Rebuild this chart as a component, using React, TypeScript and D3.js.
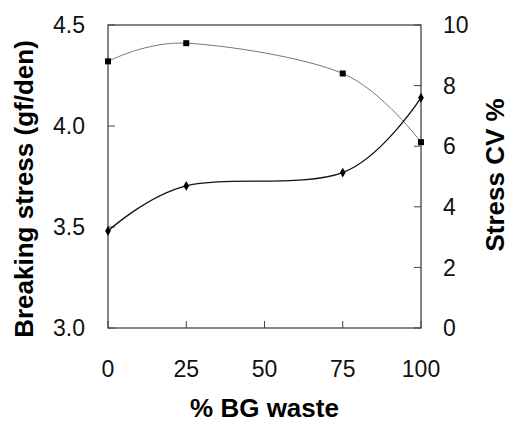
import React, { useEffect, useRef } from 'react';
import * as d3 from 'd3';

const bgWaste = [0, 25, 75, 100];
const breakingStress = [4.32, 4.41, 4.26, 3.92];
const stressCV = [3.2, 4.69, 5.13, 7.6];
const xTicks = [0, 25, 50, 75, 100];
const leftTicks = [3.0, 3.5, 4.0, 4.5];
const rightTicks = [0, 2, 4, 6, 8, 10];

export default function App() {
  const ref = useRef<SVGSVGElement | null>(null);

  useEffect(() => {
    const width = 511;
    const height = 424;
    const m = { left: 108, right: 421, top: 25, bottom: 328 };
    const font = '"Liberation Sans", Arial, sans-serif';

    const svg = d3.select(ref.current);
    svg.selectAll('*').remove();
    svg.attr('width', width).attr('height', height);

    const x = d3.scaleLinear().domain([0, 100]).range([m.left, m.right]);
    const yL = d3.scaleLinear().domain([3, 4.5]).range([m.bottom, m.top]);
    const yR = d3.scaleLinear().domain([0, 10]).range([m.bottom, m.top]);

    const axisColor = '#444';

    // frame
    svg.append('rect')
      .attr('x', m.left).attr('y', m.top)
      .attr('width', m.right - m.left).attr('height', m.bottom - m.top)
      .attr('fill', 'none').attr('stroke', axisColor).attr('stroke-width', 1.3);

    // inward ticks
    const tl = 7;
    svg.append('g').selectAll('line').data(leftTicks).enter().append('line')
      .attr('x1', m.left).attr('x2', m.left + tl)
      .attr('y1', d => yL(d)).attr('y2', d => yL(d))
      .attr('stroke', axisColor);
    svg.append('g').selectAll('line').data(rightTicks).enter().append('line')
      .attr('x1', m.right - tl).attr('x2', m.right)
      .attr('y1', d => yR(d)).attr('y2', d => yR(d))
      .attr('stroke', axisColor);
    svg.append('g').selectAll('line').data(xTicks).enter().append('line')
      .attr('x1', d => x(d)).attr('x2', d => x(d))
      .attr('y1', m.bottom - tl).attr('y2', m.bottom)
      .attr('stroke', axisColor);

    // tick labels
    svg.append('g').selectAll('text').data(leftTicks).enter().append('text')
      .attr('x', 85).attr('y', d => yL(d)).attr('dy', '0.36em')
      .attr('text-anchor', 'end')
      .style('font-family', font).style('font-size', '23px').attr('fill', '#111')
      .text(d => d.toFixed(1));
    svg.append('g').selectAll('text').data(rightTicks).enter().append('text')
      .attr('x', 443).attr('y', d => yR(d)).attr('dy', '0.36em')
      .attr('text-anchor', 'start')
      .style('font-family', font).style('font-size', '23px').attr('fill', '#111')
      .text(d => d);
    svg.append('g').selectAll('text').data(xTicks).enter().append('text')
      .attr('x', d => x(d)).attr('y', 377)
      .attr('text-anchor', 'middle')
      .style('font-family', font).style('font-size', '23px').attr('fill', '#111')
      .text(d => d);

    // axis titles
    svg.append('text')
      .attr('transform', `translate(33,189) rotate(-90)`)
      .attr('text-anchor', 'middle')
      .style('font-family', font).style('font-size', '26px').style('font-weight', 'bold')
      .text('Breaking stress (gf/den)');
    svg.append('text')
      .attr('transform', `translate(504,175) rotate(-90)`)
      .attr('text-anchor', 'middle')
      .style('font-family', font).style('font-size', '26px').style('font-weight', 'bold')
      .text('Stress CV %');
    svg.append('text')
      .attr('x', (m.left + m.right) / 2).attr('y', 417)
      .attr('text-anchor', 'middle')
      .style('font-family', font).style('font-size', '26px').style('font-weight', 'bold')
      .text('% BG waste');

    // series
    const s1 = bgWaste.map((v, i) => [v, breakingStress[i]] as [number, number]);
    const s2 = bgWaste.map((v, i) => [v, stressCV[i]] as [number, number]);

    const line1 = d3.line<[number, number]>().x(d => x(d[0])).y(d => yL(d[1])).curve(d3.curveCardinal.tension(0));
    const line2 = d3.line<[number, number]>().x(d => x(d[0])).y(d => yR(d[1])).curve(d3.curveCardinal.tension(0));

    svg.append('path').attr('d', line1(s1)).attr('fill', 'none')
      .attr('stroke', '#777').attr('stroke-width', 1);
    svg.append('path').attr('d', line2(s2)).attr('fill', 'none')
      .attr('stroke', '#111').attr('stroke-width', 1.3);

    svg.append('g').selectAll('rect').data(s1).enter().append('rect')
      .attr('x', d => x(d[0]) - 3).attr('y', d => yL(d[1]) - 3)
      .attr('width', 6).attr('height', 6).attr('fill', '#000');
    svg.append('g').selectAll('path').data(s2).enter().append('path')
      .attr('transform', d => `translate(${x(d[0])},${yR(d[1])})`)
      .attr('d', d3.symbol().type(d3.symbolDiamond).size(28)())
      .attr('fill', '#000');
  }, []);

  return (
    <svg ref={ref} style={{ position: 'fixed', left: 0, top: 0, background: '#fff' }} />
  );
}
